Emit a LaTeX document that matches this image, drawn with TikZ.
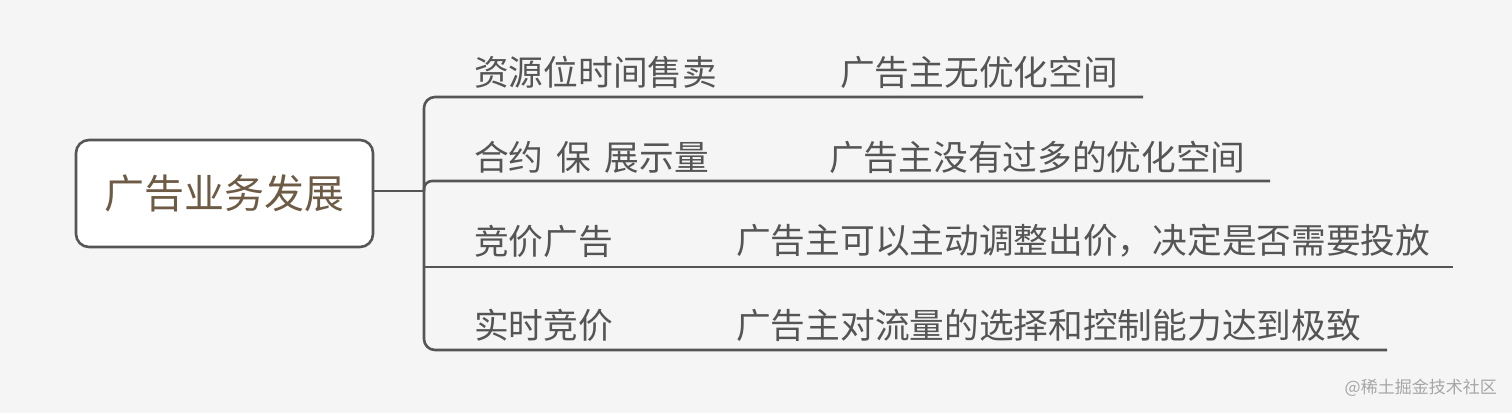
\documentclass[tikz,border=0pt]{standalone}
\usepackage{fontspec}
\setmainfont{Noto Sans CJK SC}
\begin{document}
\begin{tikzpicture}[x=1pt,y=-1pt,
  line/.style={draw=linegray,line width=2.6pt},
  lbl/.style={anchor=west,inner sep=0pt,text=textgray,font=\fontsize{34.7}{36}\selectfont},
]
\definecolor{bg}{HTML}{F5F5F5}
\definecolor{linegray}{HTML}{555555}
\definecolor{textgray}{HTML}{555555}
\definecolor{brown}{HTML}{6E5B45}
\fill[bg] (0,0) rectangle (1512,413);
\useasboundingbox (0,0) rectangle (1512,413);
% root
\node[draw=linegray,line width=2.6pt,fill=white,rounded corners=13pt,
  minimum width=297pt,minimum height=107pt,inner sep=0pt,
  text=brown,font=\fontsize{40}{42}\selectfont] (root) at (224.5,193.5) {广告业务发展};
\coordinate (J) at (424,191);
\draw[line] (root.east |- J) -- (J);
% branch ends
\coordinate (e1) at (1143,97);
\coordinate (e2) at (1270,181);
\coordinate (e3) at (1453,267);
\coordinate (e4) at (1387,350);
\draw[line,rounded corners=11pt] (e1) -- (424,97) -- (424,350) -- (e4);
\draw[line,rounded corners=8pt] (J) |- (e2);
\draw[line] (424,267) -- (e3);
% labels
\node[lbl] (a1) at (474,72) {资源位时间售卖};
\node[lbl] (b1) at (840,72) {广告主无优化空间};
\node[lbl] (a2) at (474,157) {合约\hspace{0.38em}保\hspace{0.38em}展示量};
\node[lbl] (b2) at (829,157) {广告主没有过多的优化空间};
\node[lbl] (a3) at (474,241) {竞价广告};
\node[lbl] (b3) at (736,241) {广告主可以主动调整出价，决定是否需要投放};
\node[lbl] (a4) at (474,325) {实时竞价};
\node[lbl] (b4) at (736,325) {广告主对流量的选择和控制能力达到极致};
% watermark
\node[anchor=east,inner sep=0pt,text=black!35,font=\fontsize{17}{18}\selectfont] (wm) at (1497,388) {@稀土掘金技术社区};
\end{tikzpicture}
\end{document}
